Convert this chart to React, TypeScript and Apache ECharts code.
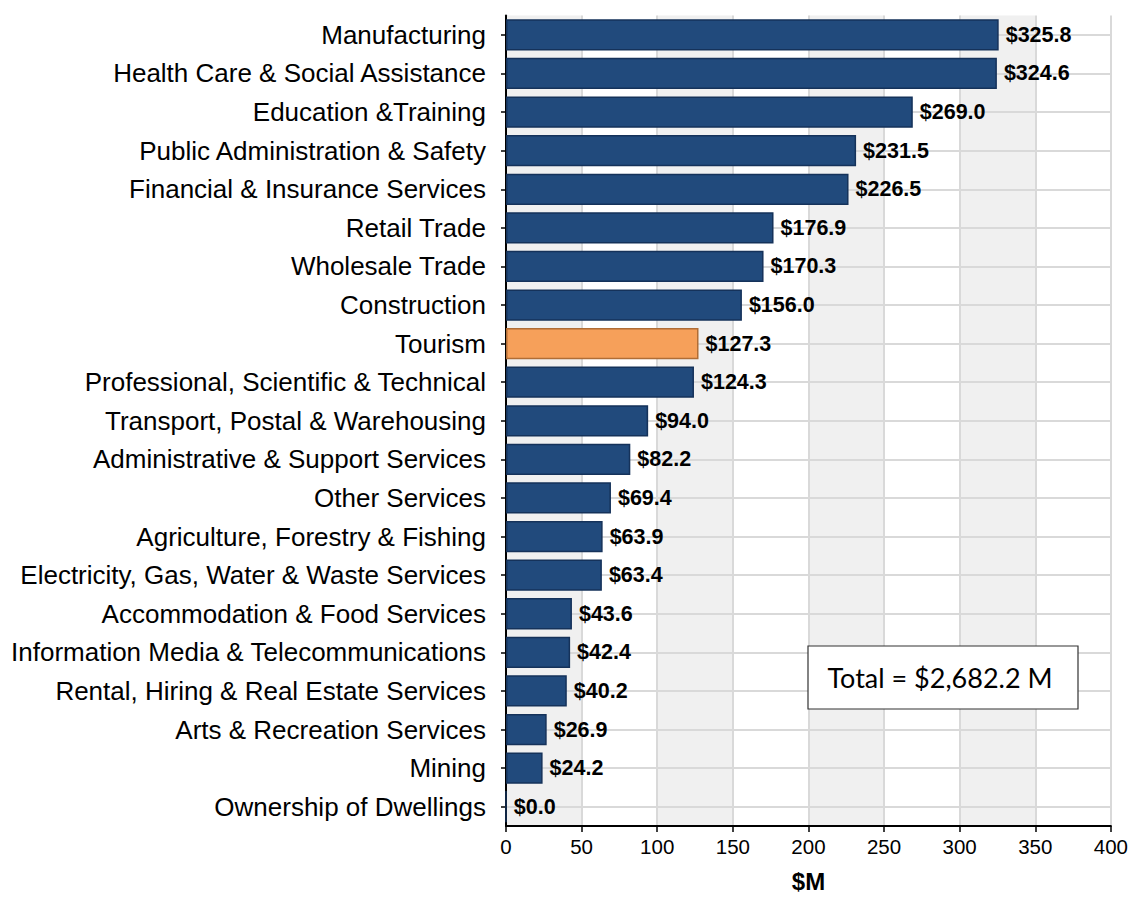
import React, { useEffect, useRef } from "react";
import * as echarts from "echarts";

const categories: string[] = [
  "Manufacturing",
  "Health Care & Social Assistance",
  "Education &Training",
  "Public Administration & Safety",
  "Financial & Insurance Services",
  "Retail Trade",
  "Wholesale Trade",
  "Construction",
  "Tourism",
  "Professional, Scientific & Technical",
  "Transport, Postal & Warehousing",
  "Administrative & Support Services",
  "Other Services",
  "Agriculture, Forestry & Fishing",
  "Electricity, Gas, Water & Waste Services",
  "Accommodation & Food Services",
  "Information Media & Telecommunications",
  "Rental, Hiring & Real Estate Services",
  "Arts & Recreation Services",
  "Mining",
  "Ownership of Dwellings",
];

const values: number[] = [
  325.8, 324.6, 269.0, 231.5, 226.5, 176.9, 170.3, 156.0, 127.3, 124.3, 94.0,
  82.2, 69.4, 63.9, 63.4, 43.6, 42.4, 40.2, 26.9, 24.2, 0.0,
];

const highlighted = "Tourism";
const totalLabel = "Total = $2,682.2 M";
const xAxisName = "$M";
const xMin = 0;
const xMax = 400;
const xInterval = 50;

export default function App() {
  const ref = useRef<HTMLDivElement>(null);

  useEffect(() => {
    if (!ref.current) return;
    const chart = echarts.init(ref.current, undefined, { renderer: "svg" });
    const data = values.map((v, i) => {
      const hl = categories[i] === highlighted;
      return {
        value: v,
        itemStyle: hl
          ? { color: "#f6a05a", borderColor: "#b06d36", borderWidth: 1.5 }
          : { color: "#214a7c", borderColor: "#15325a", borderWidth: 1.5 },
      };
    });
    chart.setOption({
      animation: false,
      backgroundColor: "#ffffff",
      grid: { left: 506, right: 15, top: 15.6, bottom: 67, containLabel: false },
      xAxis: {
        type: "value",
        z: 0,
        min: xMin,
        max: xMax,
        interval: xInterval,
        name: xAxisName,
        nameLocation: "middle",
        nameGap: 43,
        nameTextStyle: {
          fontFamily: "'Liberation Sans', Arial, sans-serif",
          fontWeight: "bold",
          fontSize: 24,
          color: "#000",
        },
        axisLine: { show: true, lineStyle: { color: "#000", width: 2 } },
        axisTick: { show: true, length: 6, lineStyle: { color: "#000", width: 1.5 } },
        axisLabel: {
          color: "#000",
          fontSize: 20.5,
          margin: 10,
          fontFamily: "'Liberation Sans', Arial, sans-serif",
        },
        splitLine: { show: true, lineStyle: { color: "#d9d9d9", width: 2 } },
        splitArea: { show: true, areaStyle: { color: ["#f0f0f0", "#ffffff"] } },
      },
      yAxis: {
        type: "category",
        z: 1,
        data: categories,
        inverse: true,
        axisLine: { show: true, lineStyle: { color: "#000", width: 2 } },
        axisTick: { show: true, alignWithLabel: true, length: 5, lineStyle: { color: "#000", width: 1.5 } },
        axisLabel: {
          color: "#000",
          fontSize: 26,
          margin: 20,
          fontFamily: "'Liberation Sans', Arial, sans-serif",
        },
        splitLine: {
          show: true,
          alignWithLabel: true,
          lineStyle: { color: "#d9d9d9", width: 2 },
        },
      },
      series: [
        {
          type: "bar",
          z: 2,
          data,
          barCategoryGap: "19%",
          label: {
            show: true,
            position: "right",
            distance: 7,
            color: "#000",
            fontWeight: "bold",
            fontSize: 21.5,
            fontFamily: "'Liberation Sans', Arial, sans-serif",
            formatter: (p: any) => "$" + Number(p.value).toFixed(1),
          },
        },
      ],
      graphic: [
        {
          type: "rect",
          z: 100,
          shape: { x: 808, y: 646, width: 270, height: 63 },
          style: { fill: "#ffffff", stroke: "#333333", lineWidth: 1.2 },
        },
        {
          type: "text",
          z: 101,
          x: 940,
          y: 677,
          style: {
            text: totalLabel,
            fill: "#000",
            fontSize: 27,
            fontFamily: "Lato, Carlito, Calibri, sans-serif",
            align: "center",
            verticalAlign: "middle",
          },
        },
      ],
    });
    return () => chart.dispose();
  }, []);

  return (
    <div
      ref={ref}
      style={{ position: "fixed", left: 0, top: 0, width: 1131, height: 898 }}
    />
  );
}
